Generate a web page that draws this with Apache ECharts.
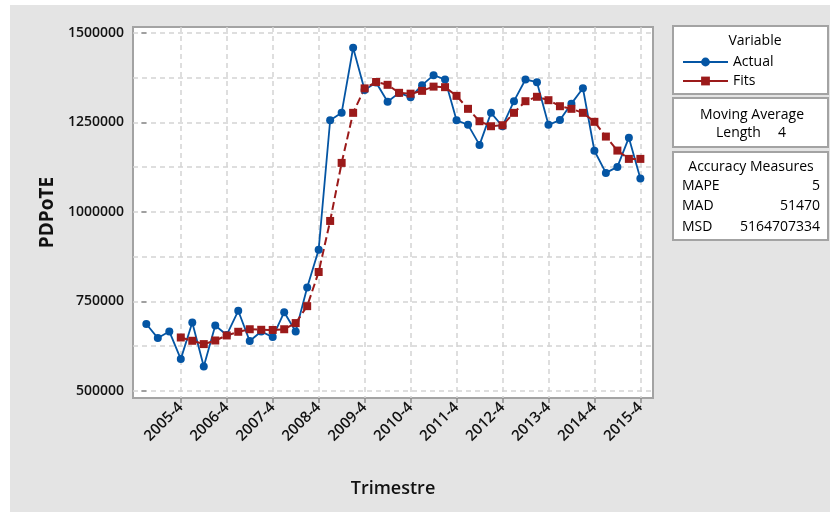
<!DOCTYPE html>
<html>
<head>
<meta charset="utf-8">
<script src="https://cdn.jsdelivr.net/npm/echarts@6/dist/echarts.min.js"></script>
<style>
html,body{margin:0;padding:0;background:#fff;}
#panel{position:absolute;left:10px;top:5px;width:820px;height:507px;background:#e4e4e4;}
#chart{position:absolute;left:0;top:0;width:830px;height:512px;}
</style>
</head>
<body>
<div id="panel"></div>
<div id="chart"></div>
<script>
const categories = [
 '2005-1','2005-2','2005-3','2005-4','2006-1','2006-2','2006-3','2006-4',
 '2007-1','2007-2','2007-3','2007-4','2008-1','2008-2','2008-3','2008-4',
 '2009-1','2009-2','2009-3','2009-4','2010-1','2010-2','2010-3','2010-4',
 '2011-1','2011-2','2011-3','2011-4','2012-1','2012-2','2012-3','2012-4',
 '2013-1','2013-2','2013-3','2013-4','2014-1','2014-2','2014-3','2014-4',
 '2015-1','2015-2','2015-3','2015-4'
];
const xTickLabels = ['2005-4','2006-4','2007-4','2008-4','2009-4','2010-4','2011-4','2012-4','2013-4','2014-4','2015-4'];
const actual = [
 686500,647300,665800,588600,691000,568000,682600,656000,
 723600,639000,665800,650000,719500,665800,788800,894200,
 1255700,1276300,1458000,1340000,1361000,1307500,1332000,1320000,
 1353500,1381500,1369400,1255700,1242800,1186800,1276300,1238900,
 1308800,1369400,1361900,1242800,1256000,1302000,1345000,1170500,
 1108600,1125400,1207000,1093000
];
const fits = [
 null,null,null,649000,639800,630500,640600,654600,
 664900,672000,670500,670000,672000,689200,736500,831800,
 974400,1136500,1276300,1344600,1362500,1354500,1332200,1329800,
 1337700,1349500,1348000,1323700,1287500,1252900,1238900,1241700,
 1276300,1308800,1321100,1311600,1294800,1287500,1276300,1251200,
 1210000,1170900,1147700,1147700
];
const yTickLabels = [500000,750000,1000000,1250000,1500000];
const yGridValues = [500000,625000,750000,875000,1000000,1125000,1250000,1375000,1500000];
const accuracyNames = ['MAPE','MAD','MSD'];
const accuracyValues = ['5','51470','5164707334'];

const FONT = '"Open Sans", "Noto Sans", sans-serif';
const xTickIdx = xTickLabels.map(l => categories.indexOf(l));
const gridLine = {show:true, lineStyle:{color:'#d4d4d4', width:1.5, type:[5,4]}};

const chart = echarts.init(document.getElementById('chart'), null, {renderer:'canvas'});

const accTexts = [];
accuracyNames.forEach((n,i)=>{
  accTexts.push({type:'text', style:{text:n, x:682, y:186+i*20.5, textAlign:'left', textVerticalAlign:'middle', font:'14px '+FONT, fill:'#000'}});
  accTexts.push({type:'text', style:{text:accuracyValues[i], x:820, y:186+i*20.5, textAlign:'right', textVerticalAlign:'middle', font:'14px '+FONT, fill:'#000'}});
});

chart.setOption({
  animation:false,
  grid:{left:133, top:27, width:520, height:371, show:true, backgroundColor:'#fff', borderColor:'#a3a3a3', borderWidth:2},
  xAxis:{
    type:'value', min:-1.16, max:44.1,
    name:'Trimestre', nameLocation:'middle', nameGap:82,
    nameTextStyle:{fontFamily:FONT, fontSize:18, fontWeight:600, color:'#111'},
    axisLine:{show:false},
    axisTick:{show:true, length:5, customValues:xTickIdx, lineStyle:{color:'#8c8c8c', width:1.5}},
    axisLabel:{customValues:xTickIdx, rotate:45, margin:7, formatter:v=>categories[v], fontFamily:FONT, fontSize:15, fontWeight:600, color:'#111'},
    splitLine:gridLine
  },
  yAxis:[{
    type:'value', min:480000, max:1516000,
    name:'PDPoTE', nameLocation:'middle', nameGap:76,
    nameTextStyle:{fontFamily:FONT, fontSize:19, fontWeight:700, color:'#111'},
    axisLine:{show:false},
    axisTick:{show:true, length:5, customValues:yTickLabels, lineStyle:{color:'#8c8c8c', width:1.5}},
    axisLabel:{customValues:yTickLabels, margin:9, formatter:v=>String(v), fontFamily:FONT, fontSize:14, fontWeight:600, color:'#111'},
    splitLine:{show:false}
  },{
    type:'value', min:480000, max:1516000, position:'left',
    axisLine:{show:false}, axisLabel:{show:false},
    axisTick:{show:false, customValues:yGridValues},
    splitLine:gridLine
  }],
  legend:{
    orient:'vertical', left:677, top:50, itemGap:5, itemWidth:45, itemHeight:11,
    data:['Actual','Fits'],
    lineStyle:{type:'solid'},
    textStyle:{fontFamily:FONT, fontSize:14, color:'#000'}
  },
  graphic:{elements:[
    {type:'rect', shape:{x:673, y:26, width:155, height:68}, style:{fill:'#fff', stroke:'#a3a3a3', lineWidth:2}},
    {type:'rect', shape:{x:673, y:98, width:155, height:49}, style:{fill:'#fff', stroke:'#a3a3a3', lineWidth:2}},
    {type:'rect', shape:{x:673, y:152, width:155, height:88}, style:{fill:'#fff', stroke:'#a3a3a3', lineWidth:2}},
    {type:'text', style:{text:'Variable', x:755, y:41, textAlign:'center', textVerticalAlign:'middle', font:'14px '+FONT, fill:'#000'}},
    {type:'text', style:{text:'Moving Average', x:752, y:115, textAlign:'center', textVerticalAlign:'middle', font:'14px '+FONT, fill:'#000'}},
    {type:'text', style:{text:'Length', x:716, y:133.5, textAlign:'left', textVerticalAlign:'middle', font:'14px '+FONT, fill:'#000'}},
    {type:'text', style:{text:'4', x:782, y:133.5, textAlign:'center', textVerticalAlign:'middle', font:'14px '+FONT, fill:'#000'}},
    {type:'text', style:{text:'Accuracy Measures', x:751, y:167, textAlign:'center', textVerticalAlign:'middle', font:'14px '+FONT, fill:'#000'}}
  ].concat(accTexts)},
  series:[{
    name:'Actual', type:'line', yAxisIndex:0,
    data:actual.map((v,i)=>[i,v]),
    symbol:'circle', symbolSize:8, showSymbol:true,
    itemStyle:{color:'#0455a4'},
    lineStyle:{color:'#0455a4', width:1.8}
  },{
    name:'Fits', type:'line', yAxisIndex:0,
    data:fits.map((v,i)=>[i,v]),
    symbol:'rect', symbolSize:8, showSymbol:true,
    itemStyle:{color:'#9b1a1a'},
    lineStyle:{color:'#9b1a1a', width:2, type:[8,4]}
  }]
});
</script>
</body>
</html>
